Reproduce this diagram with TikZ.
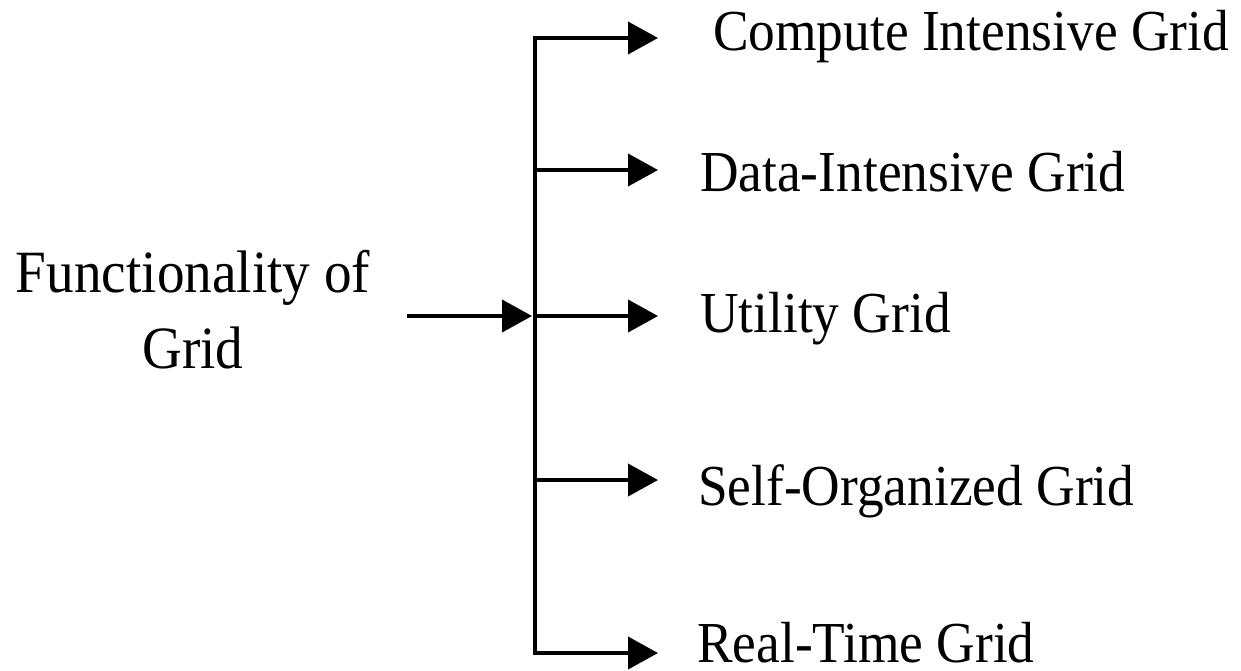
\documentclass[tikz,border=0pt]{standalone}
\usepackage{fontspec}
\setmainfont{Liberation Serif}[FakeStretch=0.92]
\usepackage{tikz}
\usetikzlibrary{arrows.meta,positioning}

\begin{document}
\begin{tikzpicture}[
    x=1pt, y=-1pt,
    >={Triangle[length=30pt,width=32pt]},
    link/.style={line width=4pt},
    kind/.style={anchor=base west, inner sep=0pt, font=\fontsize{58}{68}\selectfont},
    root/.style={anchor=base, inner sep=0pt, align=center, font=\fontsize{60}{76}\selectfont}
]
\useasboundingbox (0,0) rectangle (1241,670);

\node[root] (func) at (193,368) {Functionality of\\Grid};

\node[kind] (cig) at (713,50) {Compute Intensive Grid};
\node[kind] (dig) at (700,191) {Data-Intensive Grid};
\node[kind] (ug) at (700,332) {Utility Grid};
\node[kind] (sog) at (698,505) {Self-Organized Grid};
\node[kind] (rtg) at (697,662) {Real-Time Grid};

% trunk and branch points
\coordinate (jt) at (535,38);
\coordinate (jd) at (535,170);
\coordinate (ju) at (535,316);
\coordinate (js) at (535,480);
\coordinate (jb) at (535,653);
\coordinate (in) at (407,316);

\draw[link, <->] (jt -| cig.west) ++(-55,0) coordinate (tc) -- (jt) -- (jb) -- ++(123,0) coordinate (tr);
\draw[link, ->] (jd) -- ++(123,0) coordinate (td);
\draw[link, ->] (ju) -- ++(123,0) coordinate (tu);
\draw[link, ->] (js) -- ++(123,0) coordinate (ts);
\draw[link, ->, shorten >=3pt] (in) -- (ju);
\end{tikzpicture}
\end{document}
